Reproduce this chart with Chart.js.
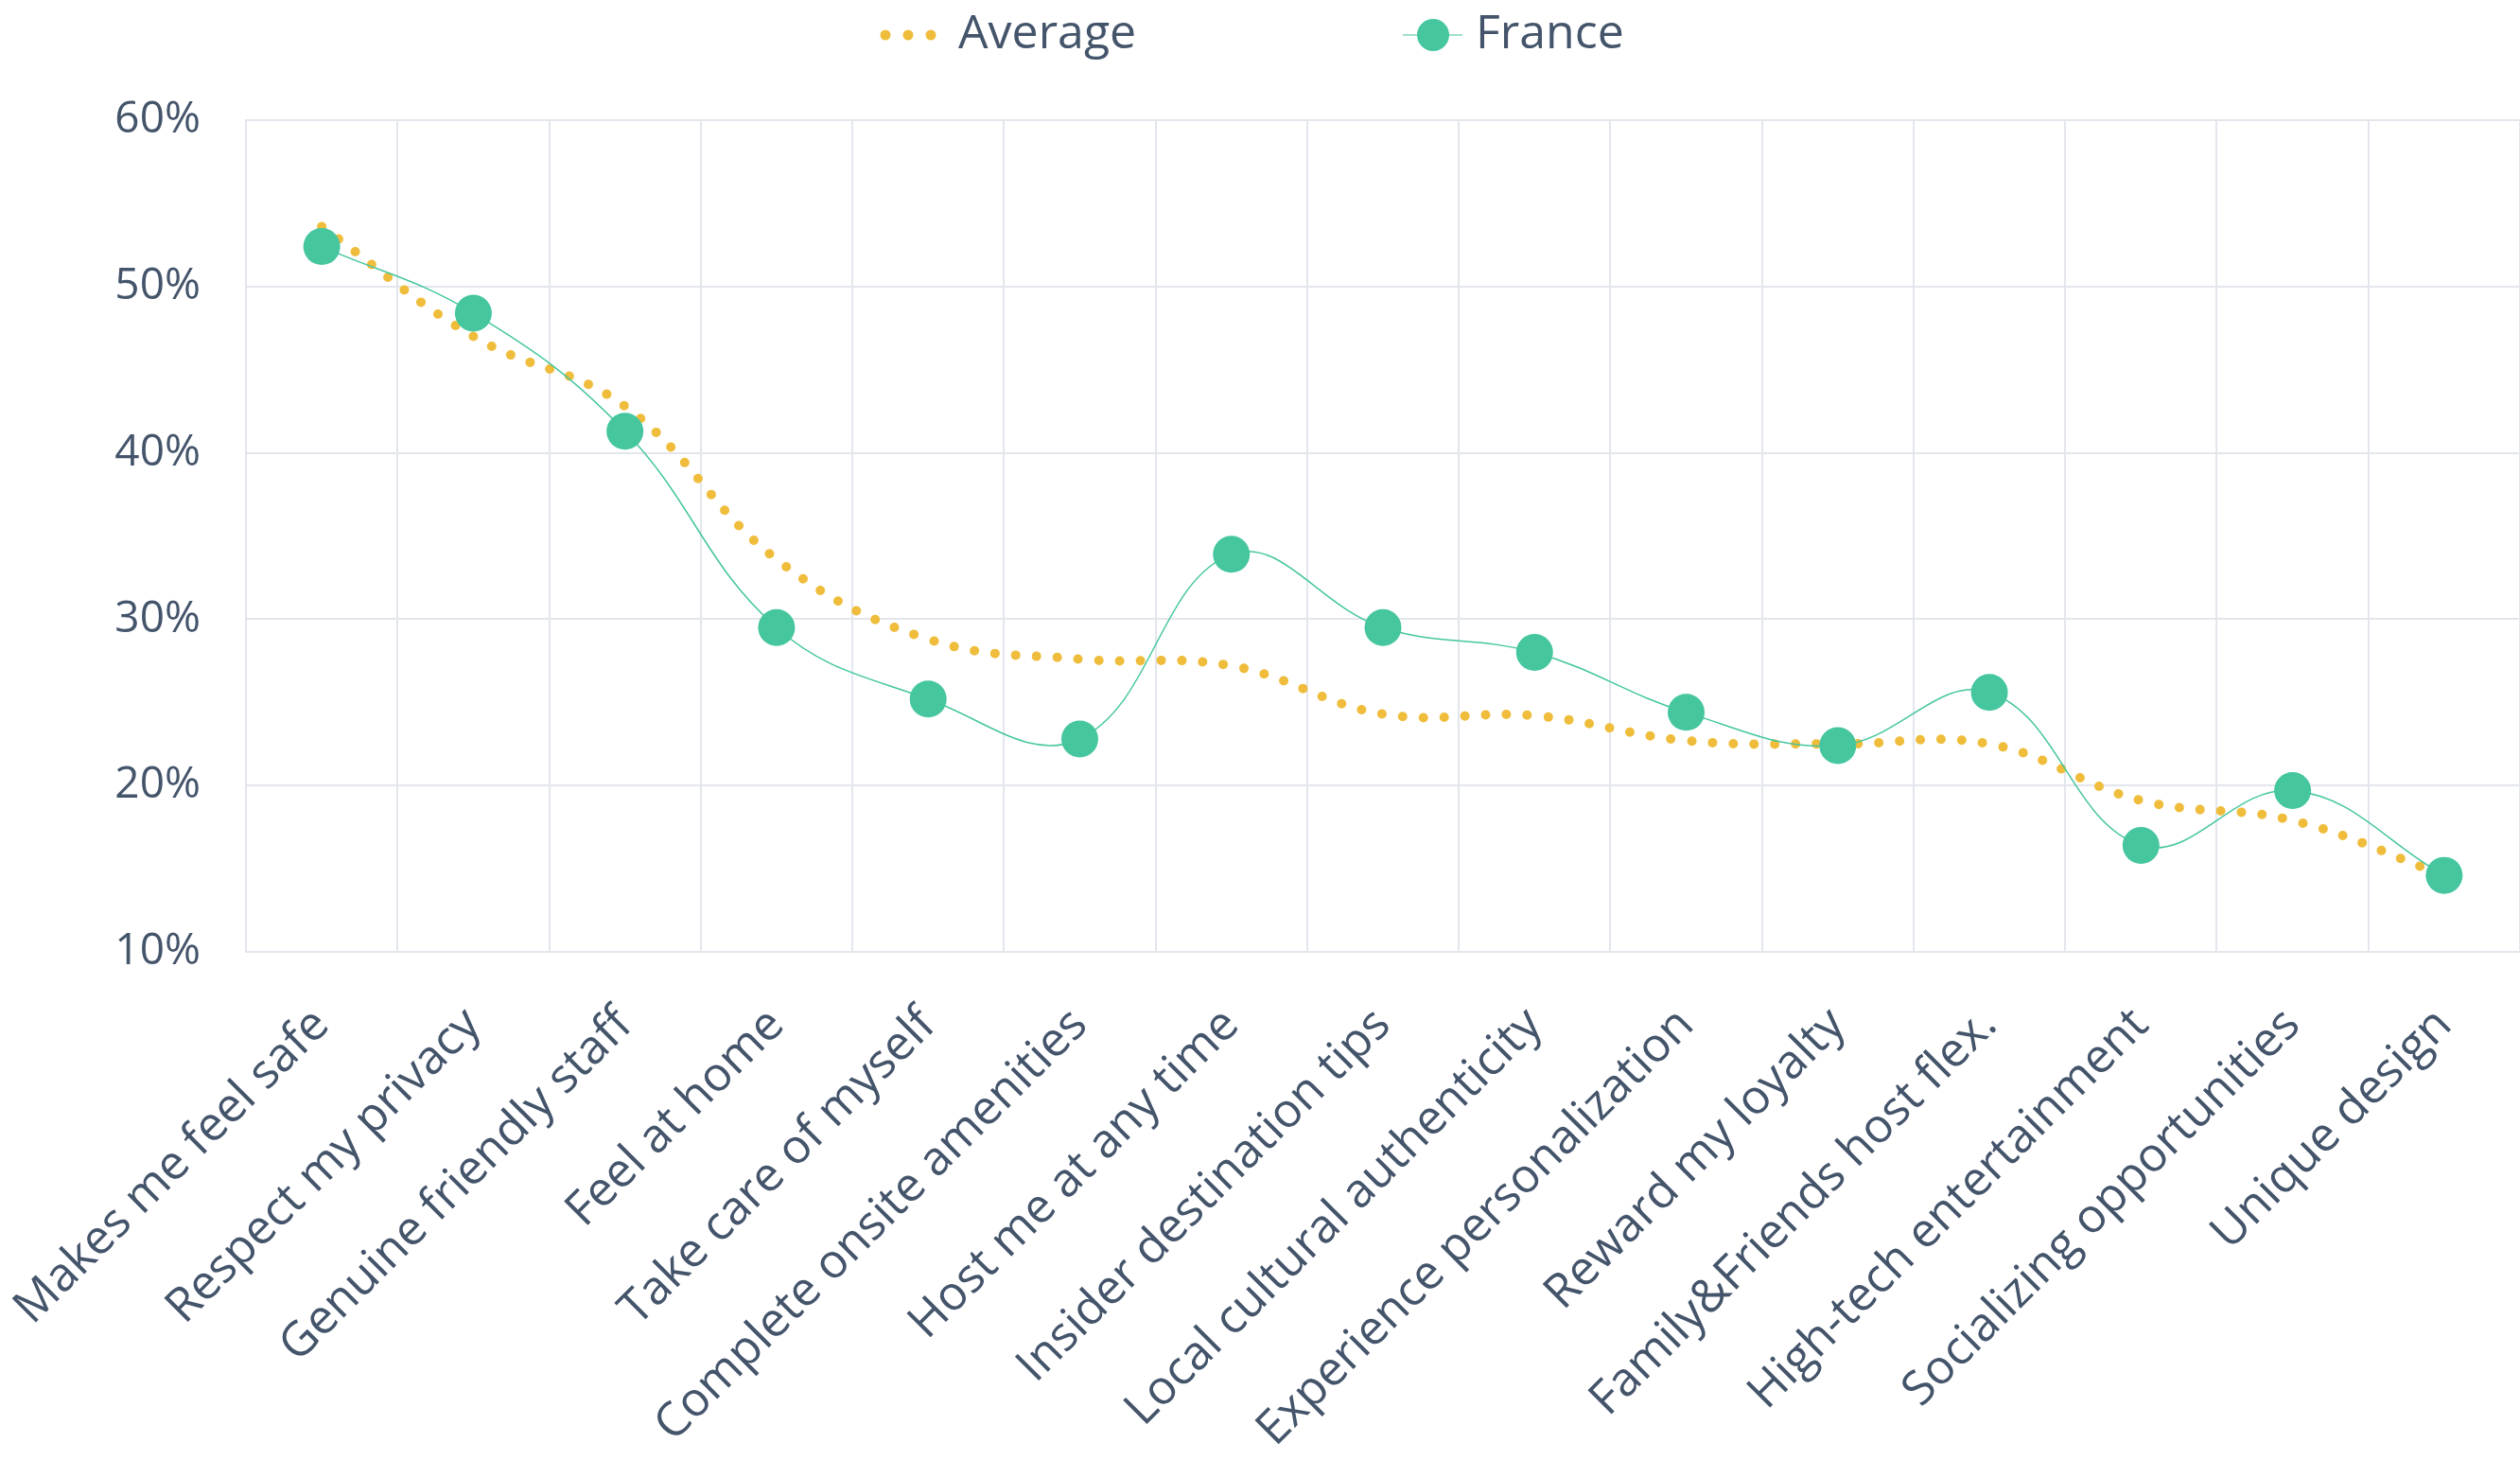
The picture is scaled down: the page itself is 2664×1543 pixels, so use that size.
<!DOCTYPE html>
<html>
<head>
<meta charset="utf-8">
<title>France vs Average</title>
<script src="https://cdn.jsdelivr.net/npm/chart.js@4.4.1/dist/chart.umd.min.js"></script>
<style>
    html, body { margin: 0; padding: 0; background: #fff; }
    #wrap { width: 2664px; height: 1543px; }
</style>
</head>
<body>
<div id="wrap"><canvas id="chart" width="2664" height="1543"></canvas></div>
<script>
(function() {
    'use strict';

    // ----- data -----
    var categories = [
        'Makes me feel safe', 'Respect my privacy', 'Genuine friendly staff', 'Feel at home',
        'Take care of myself', 'Complete onsite amenities', 'Host me at any time',
        'Insider destination tips', 'Local cultural authenticity', 'Experience personalization',
        'Reward my loyalty', 'Family&Friends host flex.', 'High-tech entertainment',
        'Socializing opportunities', 'Unique design'
    ];
    var averageValues = [53.6, 47.0, 42.8, 33.6, 28.8, 27.6, 27.2, 24.3, 24.2, 22.7, 22.5, 22.5, 19.1, 17.9, 14.6];
    var franceValues  = [52.4, 48.4, 41.3, 29.5, 25.2, 22.8, 33.9, 29.5, 28.0, 24.4, 22.4, 25.6, 16.4, 19.7, 14.6];
    var yMin = 10, yMax = 60, yStep = 10;

    var TEXT = '#44546a';
    var GRID = '#e3e6ec';
    var AVG = '#efbd3b';
    var FR = '#45c69f';
    var FONT = '"Open Sans", "Noto Sans", sans-serif';

    // legend drawn on top, centred like the original
    var topLegend = {
        id: 'topLegend',
        afterDraw: function(chart) {
            var ctx = chart.ctx;
            var cx = chart.width / 2;
            var y = 37;
            ctx.save();
            // Average: three dots
            ctx.fillStyle = AVG;
            for (var i = 0; i < 3; i++) {
                ctx.beginPath();
                ctx.arc(cx - 396 + i * 24, y, 5.5, 0, Math.PI * 2);
                ctx.fill();
            }
            ctx.font = '50px ' + FONT;
            ctx.textBaseline = 'middle';
            ctx.textAlign = 'left';
            ctx.fillStyle = TEXT;
            ctx.fillText(chart.data.datasets[0].label, cx - 319, y);
            // France: line + dot
            ctx.strokeStyle = '#9fe2cc';
            ctx.lineWidth = 2;
            ctx.beginPath();
            ctx.moveTo(cx + 151, y);
            ctx.lineTo(cx + 214, y);
            ctx.stroke();
            ctx.fillStyle = FR;
            ctx.beginPath();
            ctx.arc(cx + 183, y, 17, 0, Math.PI * 2);
            ctx.fill();
            ctx.fillStyle = TEXT;
            ctx.fillText(chart.data.datasets[1].label, cx + 228, y);
            ctx.restore();
        }
    };

    new Chart(document.getElementById('chart'), {
        type: 'line',
        data: {
            labels: categories,
            datasets: [{
                label: 'Average',
                data: averageValues,
                borderColor: AVG,
                backgroundColor: AVG,
                borderWidth: 10,
                borderDash: [0, 22],
                borderCapStyle: 'round',
                pointRadius: 0,
                tension: 0.4,
                fill: false,
                order: 2
            }, {
                label: 'France',
                data: franceValues,
                borderColor: FR,
                backgroundColor: FR,
                borderWidth: 1.5,
                pointRadius: 19.5,
                pointBorderWidth: 0,
                pointBackgroundColor: FR,
                tension: 0.4,
                fill: false,
                order: 1
            }]
        },
        options: {
            responsive: false,
            devicePixelRatio: 1,
            animation: false,
            layout: { autoPadding: false, padding: { top: 127, right: 0, left: 0, bottom: 0 } },
            plugins: {
                legend: { display: false },
                tooltip: { enabled: false }
            },
            scales: {
                x: {
                    offset: true,
                    grid: { color: GRID, lineWidth: 2, drawTicks: false, offset: true },
                    border: { color: GRID, width: 2 },
                    ticks: {
                        autoSkip: false,
                        maxRotation: 45,
                        minRotation: 45,
                        padding: 48,
                        color: TEXT,
                        font: { family: FONT, size: 50 }
                    },
                    afterFit: function(scale) {
                        scale.height = 537;
                        scale.paddingLeft = 0;
                        scale.paddingRight = 0;
                    }
                },
                y: {
                    min: yMin,
                    max: yMax,
                    grid: { color: GRID, lineWidth: 2, drawTicks: false },
                    border: { color: GRID, width: 2 },
                    ticks: {
                        stepSize: yStep,
                        padding: 48,
                        color: TEXT,
                        font: { family: FONT, size: 46 },
                        callback: function(v) { return v + '%'; }
                    },
                    afterFit: function(scale) {
                        scale.width = 260;
                        scale.paddingTop = 0;
                        scale.paddingBottom = 0;
                    }
                }
            }
        },
        plugins: [topLegend]
    });
})();
</script>
</body>
</html>
